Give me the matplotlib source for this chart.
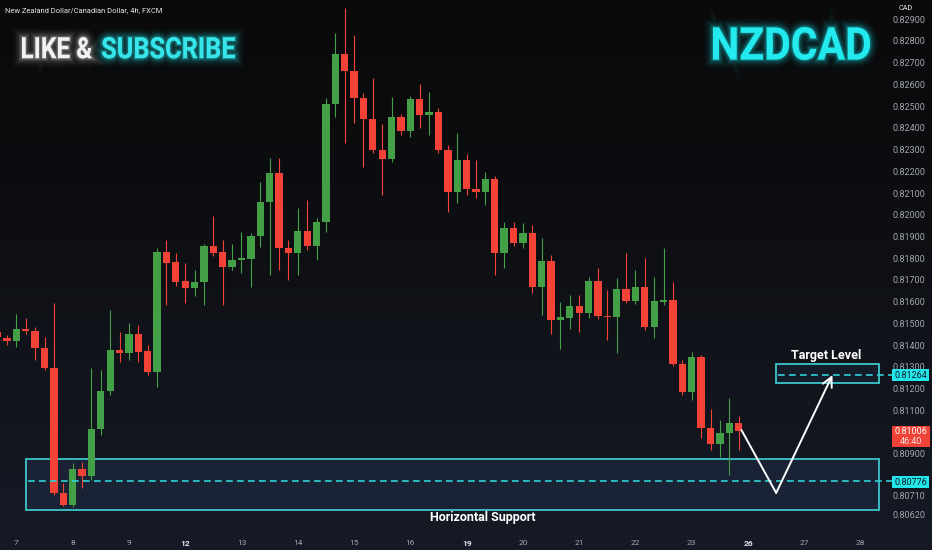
import numpy as np
import matplotlib
matplotlib.use('Agg')
import matplotlib.pyplot as plt
import matplotlib.patheffects as pe
from matplotlib.patches import Rectangle, PathPatch
from matplotlib.textpath import TextPath
from matplotlib.font_manager import FontProperties
from matplotlib.transforms import Affine2D, IdentityTransform
from matplotlib.colors import LinearSegmentedColormap

plt.rcParams['font.family'] = ['Roboto', 'DejaVu Sans']

W, H, DPI = 932, 550, 100

# ---------------- data (NZDCAD 4h candles) ----------------
opens = [0.81461, 0.81433, 0.81419, 0.81475, 0.81465, 0.81387, 0.81295, 0.80721, 0.80665, 0.80831,
         0.80799, 0.81015, 0.81190, 0.81378, 0.81364, 0.81452, 0.81373, 0.81277, 0.81829, 0.81783,
         0.81695, 0.81663, 0.81691, 0.81856, 0.81829, 0.81760, 0.81794, 0.81796, 0.81902, 0.82059,
         0.82192, 0.81847, 0.81824, 0.81925, 0.81856, 0.81967, 0.82509, 0.82739, 0.82661, 0.82537,
         0.82440, 0.82298, 0.82256, 0.82449, 0.82385, 0.82532, 0.82459, 0.82472, 0.82298, 0.82105,
         0.82252, 0.82118, 0.82105, 0.82164, 0.81824, 0.81939, 0.81870, 0.81916, 0.81668, 0.81787,
         0.81516, 0.81525, 0.81580, 0.81548, 0.81695, 0.81534, 0.81530, 0.81659, 0.81603, 0.81668,
         0.81484, 0.81599, 0.81608, 0.81314, 0.81185, 0.81346, 0.81019, 0.80946, 0.80996, 0.81042]
highs = [0.81479, 0.81447, 0.81544, 0.81525, 0.81484, 0.81438, 0.81594, 0.80767, 0.80859, 0.80863,
         0.81295, 0.81286, 0.81562, 0.81461, 0.81502, 0.81493, 0.81401, 0.81847, 0.81884, 0.81824,
         0.81778, 0.81746, 0.81866, 0.81994, 0.81884, 0.81866, 0.81921, 0.81916, 0.82151, 0.82261,
         0.82261, 0.81884, 0.82031, 0.82068, 0.81985, 0.82537, 0.82836, 0.82951, 0.82826, 0.82560,
         0.82629, 0.82417, 0.82541, 0.82463, 0.82546, 0.82601, 0.82564, 0.82491, 0.82321, 0.82376,
         0.82279, 0.82252, 0.82197, 0.82178, 0.81967, 0.81967, 0.81962, 0.81953, 0.81893, 0.81815,
         0.81599, 0.81631, 0.81631, 0.81714, 0.81755, 0.81654, 0.81709, 0.81824, 0.81746, 0.81801,
         0.81714, 0.81847, 0.81691, 0.81332, 0.81369, 0.81355, 0.81107, 0.81056, 0.81157, 0.81075]
lows = [0.81424, 0.81401, 0.81392, 0.81452, 0.81332, 0.81286, 0.80711, 0.80661, 0.80656, 0.80744,
        0.80780, 0.80987, 0.81171, 0.81323, 0.81332, 0.81323, 0.81263, 0.81208, 0.81585, 0.81672,
        0.81594, 0.81626, 0.81585, 0.81810, 0.81585, 0.81746, 0.81732, 0.81668, 0.81852, 0.81723,
        0.81746, 0.81700, 0.81723, 0.81838, 0.81792, 0.81921, 0.82449, 0.82330, 0.82422, 0.82220,
        0.82284, 0.82091, 0.82243, 0.82367, 0.82357, 0.82399, 0.82367, 0.82284, 0.82013, 0.82054,
        0.82091, 0.82077, 0.82045, 0.81723, 0.81755, 0.81856, 0.81847, 0.81640, 0.81539, 0.81452,
        0.81383, 0.81475, 0.81461, 0.81525, 0.81521, 0.81424, 0.81364, 0.81594, 0.81590, 0.81470,
        0.81433, 0.81585, 0.81305, 0.81171, 0.81148, 0.80973, 0.80918, 0.80886, 0.80803, 0.80918]
closes = [0.81438, 0.81419, 0.81475, 0.81465, 0.81387, 0.81295, 0.80721, 0.80665, 0.80831, 0.80799,
          0.81015, 0.81190, 0.81378, 0.81364, 0.81452, 0.81369, 0.81277, 0.81829, 0.81778, 0.81691,
          0.81663, 0.81691, 0.81856, 0.81824, 0.81760, 0.81792, 0.81799, 0.81902, 0.82059, 0.82192,
          0.81847, 0.81824, 0.81925, 0.81856, 0.81967, 0.82509, 0.82739, 0.82661, 0.82537, 0.82440,
          0.82298, 0.82256, 0.82449, 0.82385, 0.82532, 0.82459, 0.82472, 0.82298, 0.82105, 0.82252,
          0.82118, 0.82105, 0.82164, 0.81824, 0.81939, 0.81870, 0.81916, 0.81668, 0.81787, 0.81516,
          0.81530, 0.81580, 0.81548, 0.81695, 0.81534, 0.81530, 0.81659, 0.81603, 0.81668, 0.81484,
          0.81603, 0.81608, 0.81314, 0.81185, 0.81346, 0.81019, 0.80946, 0.80996, 0.81042, 0.81006]

day_labels = ['7', '8', '9', '12', '13', '14', '15', '16', '19', '20', '21', '22', '23', '26', '27', '28']
week_start_labels = ['12', '19', '26']
price_ticks = [0.829, 0.828, 0.827, 0.826, 0.825, 0.824, 0.823, 0.822, 0.821, 0.820, 0.819,
               0.818, 0.817, 0.816, 0.815, 0.814, 0.813, 0.812, 0.811, 0.809,
               0.8071, 0.8062]

support_level = 0.80776
support_zone = (0.80642, 0.80877)
target_level = 0.81264
target_zone = (0.81226, 0.81314)
last_price = 0.81006
countdown = '46:40'
path_prices = [0.81010, 0.80721, 0.81263]

GREEN = '#43a047'
RED = '#f44336'
CYAN = '#2fd3d6'

# ---------------- figure ----------------
fig = plt.figure(figsize=(W / DPI, H / DPI), dpi=DPI)
bg = fig.add_axes([0, 0, 1, 1], zorder=-5)
grad = np.linspace(0, 1, 256).reshape(-1, 1)
cmap = LinearSegmentedColormap.from_list('bg', ['#0a0a0b', '#0c0d10', '#11141b', '#151a26'])
bg.imshow(grad, aspect='auto', cmap=cmap, extent=[0, 1, 0, 1], origin='upper')
bg.axis('off')

ax = fig.add_axes([0, 20 / H, 883 / W, 530 / H])
ax.patch.set_alpha(0)
for s in ax.spines.values():
    s.set_visible(False)

n = len(opens)
pos = np.arange(-1, n - 1)
ax.set_xlim(-0.746, 93.39)
ax.set_ylim(0.805505, 0.829874)

# zones (below candles)
sx0, sx1 = 2.0, 92.96
ax.add_patch(Rectangle((sx0, support_zone[0]), sx1 - sx0, support_zone[1] - support_zone[0],
                       facecolor='#1a2335', edgecolor='#3cc6ca', lw=1.3, zorder=1))
tx0 = 82.0
ax.add_patch(Rectangle((tx0, target_zone[0]), sx1 - tx0, target_zone[1] - target_zone[0],
                       facecolor='#141c2a', edgecolor='#3cc6ca', lw=1.3, zorder=1))

# candles
for xi, o, h, l, c in zip(pos, opens, highs, lows, closes):
    col = GREEN if c >= o else RED
    ax.vlines(xi, l, h, color=col, lw=0.8, zorder=2)
    ax.add_patch(Rectangle((xi - 0.39, min(o, c)), 0.78, max(abs(c - o), 0.00003),
                           facecolor=col, edgecolor='none', zorder=3))

# dashed levels
ax.plot([sx0 + 0.2, 94.3], [support_level] * 2, color=CYAN, lw=1.2, dashes=(4, 2.6),
        clip_on=False, zorder=4)
ax.plot([tx0 + 0.2, 94.3], [target_level] * 2, color=CYAN, lw=1.2, dashes=(4, 2.6),
        clip_on=False, zorder=4)

# projected path
ax.plot([78.3, 82.0], path_prices[:2], color='white', lw=1.4, zorder=5, solid_capstyle='round')
ax.annotate('', xy=(88.0, path_prices[2]), xytext=(82.0, path_prices[1]),
            arrowprops=dict(arrowstyle='->,head_length=0.7,head_width=0.35', color='white',
                            lw=1.4, shrinkA=0, shrinkB=0), zorder=5)

# axes ticks
ax.set_xticks(1 + 6 * np.arange(len(day_labels)))
ax.set_xticklabels(day_labels)
ax.tick_params(axis='x', length=0, pad=7, labelsize=6, colors='#a3a6ae')
for t in ax.get_xticklabels():
    if t.get_text() in week_start_labels:
        t.set_fontweight('bold')
        t.set_color('#e6e8ee')
ax.yaxis.tick_right()
ax.set_yticks(price_ticks)
ax.set_yticklabels([f'{v:.5f}' for v in price_ticks])
ax.tick_params(axis='y', length=0, pad=7, labelsize=6.5, colors='#a3a6ae')


def fy(y):
    return 1 - y / H


# texts
fig.text(5 / W, fy(10.5), 'New Zealand Dollar/Canadian Dollar, 4h, FXCM', fontsize=5.4,
         color='#e8e8e8', ha='left', va='center')
fig.text(906 / W, fy(8.5), 'CAD', fontsize=5.3, color='#e8e8e8', ha='center', va='center')
fig.text(483 / W, fy(517), 'Horizontal Support', fontsize=9, fontweight='bold', color='white',
         ha='center', va='center')
fig.text(826.5 / W, fy(355.5), 'Target Level', fontsize=9, fontweight='bold', color='white',
         ha='center', va='center')


def glow_text(s, x0, x1, ytop, ybot, color, glow):
    fp = FontProperties(family='Roboto', weight='bold')
    tp = TextPath((0, 0), s, size=100, prop=fp)
    ext = tp.get_extents()
    sx = (x1 - x0) / ext.width
    sy = (ybot - ytop) / ext.height
    tr = Affine2D().translate(-ext.x0, -ext.y0).scale(sx, sy).translate(x0, H - ybot)
    patch = PathPatch(tr.transform_path(tp), facecolor=color, edgecolor='none',
                      transform=IdentityTransform(), zorder=6)
    effects = [pe.Stroke(linewidth=w, foreground=glow, alpha=a)
               for w, a in [(12, 0.04), (9, 0.06), (6.5, 0.09), (4, 0.14), (2, 0.25)]]
    patch.set_path_effects(effects + [pe.Normal()])
    fig.add_artist(patch)


glow_text('LIKE &', 22, 92, 37, 58.5, '#f2f2f2', '#bfbfbf')
glow_text('SUBSCRIBE', 102, 235, 37, 58.5, '#37e6ea', '#22d8dc')
glow_text('NZDCAD', 713, 870, 27, 60, '#22eaee', '#19d6da')


# right-axis price labels
def px_rect(x0, y0, x1, y1, color):
    fig.add_artist(Rectangle((x0, H - y1), x1 - x0, y1 - y0, facecolor=color, edgecolor='none',
                             transform=IdentityTransform(), zorder=7))


px_rect(892, 369, 929, 381, '#22e6ea')
fig.text(910.5 / W, fy(375.2), f'{target_level:.5f}', fontsize=6.5, color='#0b1a22',
         ha='center', va='center', zorder=8)
px_rect(892, 476, 929, 488, '#22e6ea')
fig.text(910.5 / W, fy(482.2), f'{support_level:.5f}', fontsize=6.5, color='#0b1a22',
         ha='center', va='center', zorder=8)
px_rect(892, 426, 930, 447, '#ee4336')
fig.text(911 / W, fy(431.8), f'{last_price:.5f}', fontsize=6.5, color='white',
         ha='center', va='center', zorder=8)
fig.text(911 / W, fy(441.2), countdown, fontsize=6.5, color='#ffe0dc',
         ha='center', va='center', zorder=8)

fig.savefig('out.png', dpi=DPI)
